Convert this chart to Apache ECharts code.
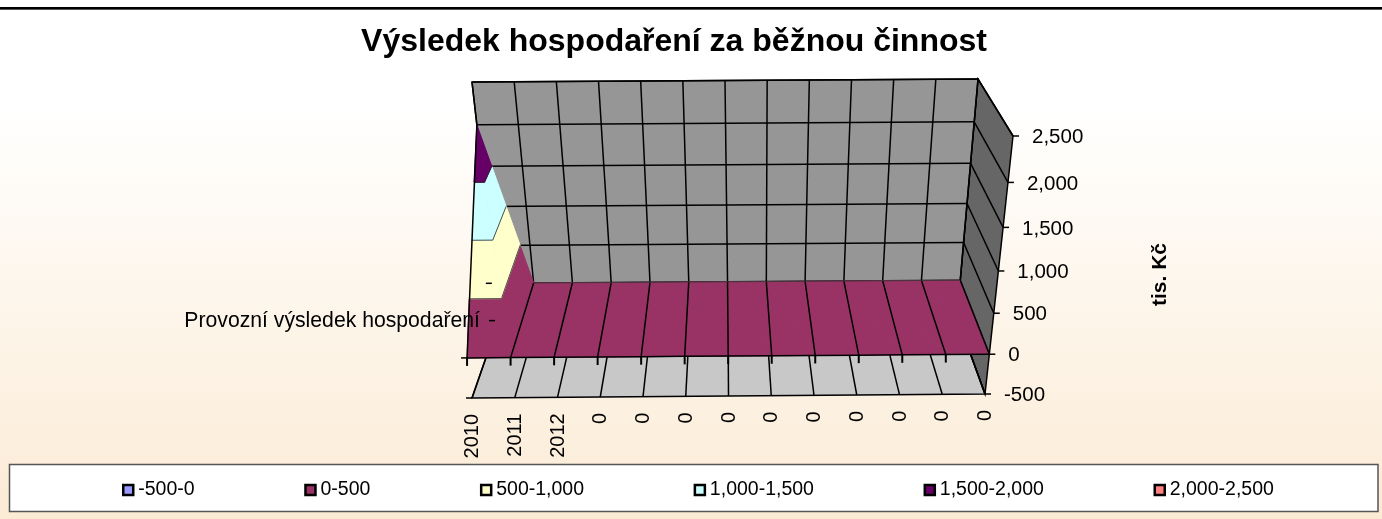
<!DOCTYPE html>
<html><head><meta charset="utf-8">
<style>html,body{margin:0;padding:0;background:#fff}#c{width:1382px;height:519px}</style>
<script src="https://cdn.jsdelivr.net/npm/echarts@6/dist/echarts.min.js"></script>
</head><body><div id="c"></div>
<script>
// ---- data ----
const categories = ['2010','2011','2012','0','0','0','0','0','0','0','0','0','0'];
const frontRow   = [0,0,0,0,0,0,0,0,0,0,0,0,0];
const backRow    = [2000,0,0,0,0,0,0,0,0,0,0,0,0];
const valueTicks = [-500,0,500,1000,1500,2000,2500];
const valueLabels = ['-500','0','500','1,000','1,500','2,000','2,500'];
const bandNames  = ['-500-0','0-500','500-1,000','1,000-1,500','1,500-2,000','2,000-2,500'];
const bandLow    = [-500,0,500,1000,1500,2000];
const bandHigh   = [0,500,1000,1500,2000,2500];
const bandColors = ['#9999FF','#993366','#FFFFCC','#CCFFFF','#660066','#FF8080'];
const seriesLabel = 'Provozní výsledek hospodaření';
const FONT = '"Liberation Sans", Arial, sans-serif';

// ---- 3D box projected on the page: corners of the plot box ----
const G = {left:472, right:397, top:136, bottom:125};
const W = 1382-G.left-G.right, H = 519-G.top-G.bottom, X0 = G.left, Y0 = 519-G.bottom;
const C = { // [i][depth][low/high]
  fl:[472,398], flh:[440,138], fr:[985,394], frh:[1013,136],
  bl:[499,320], blh:[472,82],  br:[957,317], brh:[978,79]
};
const lerp=(a,b,t)=>a+(b-a)*t;
const KP=1.097;
function proj(api,i,d,v){
  const p=api.coord([i,v]);
  const u=(p[0]-X0)/W, t=(Y0-p[1])/H;
  const s=t/(t+(1-t)*KP);
  const r=[];
  for(let k=0;k<2;k++){
    const f=lerp(lerp(C.fl[k],C.fr[k],u),lerp(C.flh[k],C.frh[k],u),s);
    const b=lerp(lerp(C.bl[k],C.br[k],u),lerp(C.blh[k],C.brh[k],u),s);
    r.push(lerp(f,b,d));
  }
  return r;
}
const LW=1.5;
const line=(a,b,w,col)=>({type:'line',shape:{x1:a[0],y1:a[1],x2:b[0],y2:b[1]},style:{stroke:col||'#000',lineWidth:w||LW},silent:true});
const poly=(pts,fill,stroke,lw)=>({type:'polygon',shape:{points:pts},style:{fill,stroke:stroke||fill,lineWidth:lw==null?1:lw},silent:true});

// ---- surface triangles clipped into the value bands ----
function clip(tri,lo,hi){
  function cut(ps,keep,lim){
    const o=[];
    for(let n=0;n<ps.length;n++){
      const a=ps[n],b=ps[(n+1)%ps.length],ka=keep(a[2]),kb=keep(b[2]);
      if(ka)o.push(a);
      if(ka!==kb){const t=(lim-a[2])/(b[2]-a[2]);o.push([lerp(a[0],b[0],t),lerp(a[1],b[1],t),lim]);}
    }
    return o;
  }
  return cut(cut(tri,z=>z>=lo,lo),z=>z<=hi,hi);
}
const tris=[];
for(let i=0;i<categories.length-1;i++){
  const FL=[i,0,frontRow[i]],FR=[i+1,0,frontRow[i+1]],BL=[i,1,backRow[i]],BR=[i+1,1,backRow[i+1]];
  tris.push([FL,FR,BL],[FR,BR,BL]);
}
const bandPolys=bandNames.map((_,b)=>tris.filter(t=>Math.max(t[0][2],t[1][2],t[2][2])>=bandLow[b]&&Math.min(t[0][2],t[1][2],t[2][2])<bandHigh[b])
  .map(t=>clip(t,bandLow[b],bandHigh[b])).filter(p=>p.length>2));

const n=categories.length-1, vMin=valueTicks[0], vMax=valueTicks[valueTicks.length-1];

function renderFrame(params,api){
  const P=(i,d,v)=>proj(api,i,d,v), ch=[];
  ch.push(poly([P(n,1,vMin),P(n,1,vMax),P(n,0,vMax),P(n,0,vMin)],'#666666','#000',LW));
  ch.push(poly([P(0,1,vMin),P(n,1,vMin),P(n,1,vMax),P(0,1,vMax)],'#969696','#000',LW));
  ch.push(poly([P(0,0,vMin),P(n,0,vMin),P(n,1,vMin),P(0,1,vMin)],'#C8C8C8','#000',LW));
  valueTicks.forEach(v=>{
    ch.push(line(P(0,1,v),P(n,1,v)));
    ch.push(line(P(n,1,v),P(n,0,v)));
  });
  categories.forEach((c,i)=>{
    ch.push(line(P(i,1,vMin),P(i,1,vMax)));
    ch.push(line(P(i,0,vMin),P(i,1,vMin)));
  });
  return {type:'group',children:ch};
}
function renderBand(b){
  return (params,api)=>{
    const q=bandPolys[b][api.value(0)];
    const ch=[poly(q.map(r=>proj(api,r[0],r[1],r[2])),bandColors[b])];
    return {type:'group',children:ch};
  };
}
// contour lines where one band meets the next, drawn over all band fills
function renderContours(params,api){
  const ch=[];
  bandPolys.forEach((polys,b)=>polys.forEach(q=>q.forEach((a,k)=>{
    const c=q[(k+1)%q.length];
    if(a[2]===bandHigh[b]&&c[2]===bandHigh[b]){
      ch.push(line(proj(api,a[0],a[1],a[2]),proj(api,c[0],c[1],c[2]),0.8,'#222'));
    }
  })));
  return {type:'group',children:ch};
}
function renderOverlay(params,api){
  const P=(i,d,v)=>proj(api,i,d,v), ch=[];
  categories.forEach((c,i)=>{
    ch.push(line(P(i,0,frontRow[i]),P(i,1,backRow[i])));
    const q=P(i,0,0);
    if(i<n) ch.push(line(q,[q[0],q[1]+8],2));
    const f=P(i,0,vMin);
    ch.push({type:'text',x:f[0]+0.5,y:f[1]+16,rotation:Math.PI/2,silent:true,
      style:{text:c,align:'right',verticalAlign:'middle',font:'20px '+FONT,fill:'#000'}});
  });
  for(let i=0;i<n;i++){
    ch.push(line(P(i,0,frontRow[i]),P(i+1,0,frontRow[i+1])));
    if(i>0) ch.push(line(P(i,1,backRow[i]),P(i+1,1,backRow[i+1]),0.8,'#333'));
  }
  valueTicks.forEach((v,k)=>{
    const q=P(n,0,v);
    ch.push(line(q,[q[0]+6,q[1]]));
    ch.push({type:'text',x:q[0]+19,y:q[1]+1.5,silent:true,
      style:{text:valueLabels[k],align:'left',verticalAlign:'middle',font:'20.5px '+FONT,fill:'#000'}});
  });
  // series (depth) axis
  const s0=P(0,0,0),s1=P(0,.5,0),s2=P(0,1,0),fl=P(0,0,vMin);
  ch.push(line([s0[0]-6,s0[1]],s0));
  ch.push(line([s1[0]+8,s1[1]],[s1[0]+14,s1[1]]));
  ch.push(line([s2[0]-9,s2[1]],[s2[0]-3,s2[1]]));
  ch.push(line([fl[0]-6,fl[1]],fl));
  ch.push({type:'text',x:s1[0]-1,y:s1[1]+1,silent:true,
    style:{text:seriesLabel,align:'right',verticalAlign:'middle',font:'21.2px '+FONT,fill:'#000'}});
  return {type:'group',children:ch};
}

const series=[
  {name:'frame',type:'custom',renderItem:renderFrame,data:[[0,0]],z:2,silent:true,clip:false}
];
bandNames.forEach((name,b)=>series.push({
  name,type:'custom',renderItem:renderBand(b),z:3,silent:true,clip:false,
  itemStyle:{color:bandColors[b]},
  data:bandPolys[b].map((_,k)=>[k,0])
}));
series.push({name:'contours',type:'custom',renderItem:renderContours,data:[[0,0]],z:4,silent:true,clip:false});
series.push({name:'overlay',type:'custom',renderItem:renderOverlay,data:[[0,0]],z:5,silent:true,clip:false});

const chart=echarts.init(document.getElementById('c'),null,{renderer:'canvas'});
chart.setOption({
  animation:false,
  backgroundColor:{type:'linear',x:0,y:0,x2:0,y2:1,colorStops:[{offset:0,color:'#FFFFFF'},{offset:0.2,color:'#FFFFFF'},{offset:1,color:'#FBEBD5'}]},
  title:{text:'Výsledek hospodaření za běžnou činnost',left:674,top:26,padding:0,textAlign:'center',
    textStyle:{fontFamily:FONT,fontWeight:'bold',fontSize:32,color:'#000'}},
  grid:{left:G.left,right:G.right,top:G.top,bottom:G.bottom,show:false},
  xAxis:{type:'value',min:0,max:n,show:false},
  yAxis:{type:'value',min:vMin,max:vMax,interval:500,show:false},
  legend:{data:bandNames,left:122,top:480,padding:0,orient:'horizontal',itemGap:109.6,itemWidth:10,itemHeight:10,icon:'rect',
    selectedMode:false,itemStyle:{borderColor:'#000',borderWidth:2.5},
    textStyle:{fontFamily:FONT,fontSize:19.5,color:'#000',lineHeight:20}},
  graphic:[
    {type:'rect',z:-5,shape:{x:0,y:0,width:1382,height:7},style:{fill:'#fff'}},
    {type:'rect',z:-5,shape:{x:0,y:7,width:1382,height:2},style:{fill:'#000'}},
    {type:'rect',z:-5,shape:{x:0,y:9,width:1382,height:1},style:{fill:'#555'}},
    {type:'rect',z:-5,shape:{x:9.5,y:464.5,width:1368.5,height:47},style:{fill:'#fff',stroke:'#555',lineWidth:1.5}},
    {type:'text',z:6,x:1160,y:274.5,rotation:Math.PI/2,style:{text:'tis. Kč',align:'center',verticalAlign:'middle',font:'bold 21px '+FONT,fill:'#000'}}
  ],
  series
});
</script></body></html>
